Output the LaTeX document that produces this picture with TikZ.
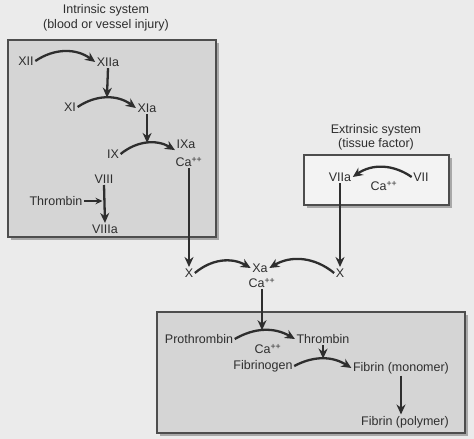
\documentclass[tikz,border=0pt]{standalone}
\usepackage{fontspec}
\setmainfont{Liberation Sans}
\usetikzlibrary{arrows.meta}
\definecolor{bgc}{HTML}{EBEBEB}
\definecolor{boxc}{HTML}{D5D5D5}
\definecolor{inkc}{HTML}{2E2E2E}
\definecolor{shadc}{HTML}{A8A8A8}
\begin{document}
\begin{tikzpicture}[x=1pt,y=-1pt,
  lbl/.style={inner sep=1.5pt, text=inkc, font=\fontsize{12.5}{14}\selectfont},
  arr/.style={draw=inkc, line width=2.3pt, -{Stealth[length=10pt,width=9pt]}},
  panel/.style={draw=inkc!85, line width=1.5pt},
  shade/.style={fill=shadc, draw=none}]
\fill[bgc] (0,0) rectangle (474,439);
\useasboundingbox (0,0) rectangle (474,439);
% boxes
\fill[shade] (10.5,42.5) rectangle (218.5,239.5);
\filldraw[panel, fill=boxc] (8,40) rectangle (216,237);
\fill[shade] (306.5,157.5) rectangle (451.5,207.5);
\filldraw[panel, fill=bgc!60!white] (304,155) rectangle (449,205);
\fill[shade] (159.5,314.5) rectangle (467.5,435.5);
\filldraw[panel, fill=boxc] (157,312) rectangle (465,433);
% titles
\node[lbl] (ti1) at (106,10) {Intrinsic system};
\node[lbl] (ti2) at (106,25) {(blood or vessel injury)};
\node[lbl] (te1) at (376,130) {Extrinsic system};
\node[lbl] (te2) at (376,144) {(tissue factor)};
% intrinsic
\node[lbl] (XII) at (26,61) {XII};
\node[lbl] (XIIa) at (108,62) {XIIa};
\node[lbl] (XI) at (70,107) {XI};
\node[lbl] (XIa) at (147,108) {XIa};
\node[lbl] (IX) at (113,154) {IX};
\node[lbl] (IXa) at (186,144) {IXa};
\node[lbl] (ca1) at (189,162) {Ca\textsuperscript{++}};
\node[lbl] (VIII) at (104,179) {VIII};
\node[lbl] (thr1) at (56,201) {Thrombin};
\node[lbl] (VIIIa) at (105,229) {VIIIa};
% common
\node[lbl] (X1) at (189,273) {X};
\node[lbl] (Xa) at (260,268) {Xa};
\node[lbl] (ca2) at (262,283) {Ca\textsuperscript{++}};
\node[lbl] (X2) at (340,273) {X};
% extrinsic
\node[lbl] (VIIa) at (340,177) {VIIa};
\node[lbl] (VII) at (421,177) {VII};
\node[lbl] (ca3) at (384,186) {Ca\textsuperscript{++}};
% final
\node[lbl] (pro) at (199,339) {Prothrombin};
\node[lbl] (thr2) at (323,339) {Thrombin};
\node[lbl] (ca4) at (268,349) {Ca\textsuperscript{++}};
\node[lbl] (fgn) at (263,366) {Fibrinogen};
\node[lbl] (fmo) at (401,368) {Fibrin (monomer)};
\node[lbl] (fpo) at (405,422) {Fibrin (polymer)};
% arrows
\draw[arr] (XII.east) to[bend left=35] (XIIa.west);
\draw[arr] (XI.east) to[bend left=35] coordinate[pos=.5] (m1) (XIa.west);
\draw[arr] (XIIa.south) -- (m1);
\draw[arr] (IX.east) to[bend left=35] coordinate[pos=.5] (m2) (IXa.south west);
\draw[arr] (XIa.south -| m2) -- (m2);
\draw[arr] (VIII.south) -- (VIIIa.north);
\draw[arr, line width=1.6pt, -{Stealth[length=7pt,width=6.5pt]}, shorten >=1.5pt] (thr1.east) -- (thr1.east -| VIII);
\draw[arr] (ca1.south) -- (X1.north);
\draw[arr] (VII.west) to[bend right=35] (VIIa.east);
\draw[arr] (VIIa.south) -- (X2.north);
\draw[arr] (X1.east) to[bend left=35] (Xa.west);
\draw[arr] (X2.west) to[bend right=35] (Xa.east);
\draw[arr] (pro.east) to[bend left=30] coordinate[pos=.5] (m3) (thr2.west);
\draw[arr] (ca2.south) -- (ca2.south |- m3);
\draw[arr] (fgn.east) to[bend left=30] coordinate[pos=.5] (m4) (fmo.west);
\draw[arr] (thr2.south -| m4) -- (m4);
\draw[arr] (fmo.south) -- (fmo.south |- fpo.north);
\end{tikzpicture}
\end{document}
